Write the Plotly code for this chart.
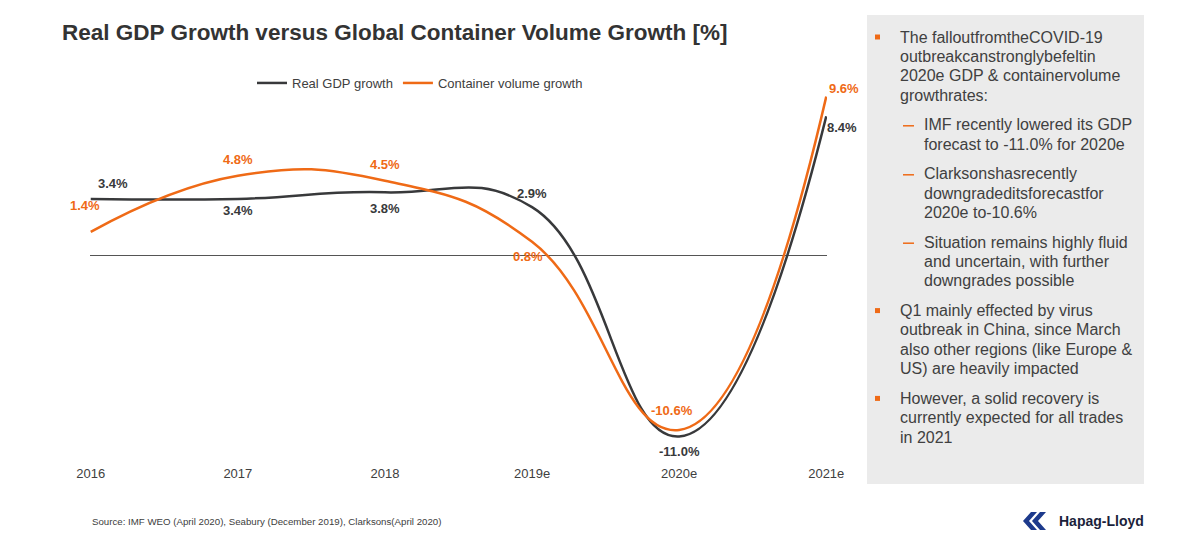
import plotly.graph_objects as go

W, H = 1200, 538

# ---------------- data ----------------
categories = ["2016", "2017", "2018", "2019e", "2020e", "2021e"]
gdp_growth = [3.4, 3.4, 3.8, 2.9, -11.0, 8.4]
container_growth = [1.4, 4.8, 4.5, 0.8, -10.6, 9.6]
gdp_labels = ["3.4%", "3.4%", "3.8%", "2.9%", "-11.0%", "8.4%"]
container_labels = ["1.4%", "4.8%", "4.5%", "0.8%", "-10.6%", "9.6%"]

title_text = "Real GDP Growth versus Global Container Volume Growth [%]"
source_text = "Source: IMF WEO (April 2020), Seabury (December 2019), Clarksons(April 2020)"

panel_lines = [
    # (text, level, starts_new_item)
    ("The falloutfromtheCOVID-19", 0, True),
    ("outbreakcanstronglybefeltin", 0, False),
    ("2020e GDP & containervolume", 0, False),
    ("growthrates:", 0, False),
    ("IMF recently lowered its GDP", 1, True),
    ("forecast to -11.0% for 2020e", 1, False),
    ("Clarksonshasrecently", 1, True),
    ("downgradeditsforecastfor", 1, False),
    ("2020e to-10.6%", 1, False),
    ("Situation remains highly fluid", 1, True),
    ("and uncertain, with further", 1, False),
    ("downgrades possible", 1, False),
    ("Q1 mainly effected by virus", 0, True),
    ("outbreak in China, since March", 0, False),
    ("also other regions (like Europe &", 0, False),
    ("US) are heavily impacted", 0, False),
    ("However, a solid recovery is", 0, True),
    ("currently expected for all trades", 0, False),
    ("in 2021", 0, False),
]

# ---------------- style ----------------
BLACK = "#38393b"
ORANGE = "#ef6a16"
TEXT = "#404040"
FONT = "Liberation Sans, Arial, sans-serif"
OFF = 8  # page body margin compensation

def px(x):
    return (x - OFF) / W

def py(y):
    return 1 - (y - OFF) / H

# plot area in (target) pixels
X0, X1 = 90, 827
Y_TOP, Y_BOT = 60, 461
ZERO_Y = 255
PX_PER_UNIT = 16.5
y_max = (ZERO_Y - Y_TOP) / PX_PER_UNIT
y_min = -(Y_BOT - ZERO_Y) / PX_PER_UNIT

fig = go.Figure()
fig.add_trace(go.Scatter(
    x=categories, y=gdp_growth, name="Real GDP growth", mode="lines",
    line=dict(color=BLACK, width=2.5, shape="spline", smoothing=1.3),
    hoverinfo="skip"))
fig.add_trace(go.Scatter(
    x=categories, y=container_growth, name="Container volume growth", mode="lines",
    line=dict(color=ORANGE, width=2.5, shape="spline", smoothing=1.3),
    hoverinfo="skip"))

annotations = []

# data labels (x given as category index)
gdp_shift = [(22, 15), (0, -12), (0, -16), (0, 14), (0, -15), (16, -11)]
cont_shift = [(-6, 26), (0, 16), (0, 16), (-4, -15), (-7, 19), (18, 8)]
for i, (v, lab, (dx, dy)) in enumerate(zip(gdp_growth, gdp_labels, gdp_shift)):
    annotations.append(dict(x=i, y=v, xref="x", yref="y", text=f"<b>{lab}</b>",
                            showarrow=False, xshift=dx, yshift=dy,
                            font=dict(family=FONT, size=13, color=BLACK)))
for i, (v, lab, (dx, dy)) in enumerate(zip(container_growth, container_labels, cont_shift)):
    annotations.append(dict(x=i, y=v, xref="x", yref="y", text=f"<b>{lab}</b>",
                            showarrow=False, xshift=dx, yshift=dy,
                            font=dict(family=FONT, size=13, color=ORANGE)))

# title
annotations.append(dict(x=px(60), y=py(33), xref="paper", yref="paper",
                        text=f"<b>{title_text}</b>", showarrow=False,
                        xanchor="left", yanchor="middle",
                        font=dict(family=FONT, size=22.5, color="#333333")))
# source
annotations.append(dict(x=px(90), y=py(521), xref="paper", yref="paper",
                        text=source_text, showarrow=False,
                        xanchor="left", yanchor="middle",
                        font=dict(family=FONT, size=9.7, color=TEXT)))
# logo text
annotations.append(dict(x=px(1057), y=py(521), xref="paper", yref="paper",
                        text="<b>Hapag-Lloyd</b>", showarrow=False,
                        xanchor="left", yanchor="middle",
                        font=dict(family=FONT, size=14, color="#1b1f3a")))

shapes = []
# grey side panel
shapes.append(dict(type="rect", xref="paper", yref="paper",
                   x0=px(867), x1=px(1144), y0=py(484), y1=py(15),
                   fillcolor="#ebebeb", line=dict(width=0), layer="below"))

# panel text
line_h = 19.4
gap = 10.2
y = 37
for i, (txt, level, new_item) in enumerate(panel_lines):
    if new_item and i > 0:
        y += gap
    tx = 898 if level == 0 else 922
    annotations.append(dict(x=px(tx), y=py(y), xref="paper", yref="paper",
                            text=txt, showarrow=False, xanchor="left", yanchor="middle",
                            font=dict(family=FONT, size=16, color=TEXT)))
    if new_item:
        if level == 0:
            shapes.append(dict(type="rect", xref="paper", yref="paper",
                               x0=px(875), x1=px(880), y0=py(y + 2.5), y1=py(y - 2.5),
                               fillcolor=ORANGE, line=dict(width=0)))
        else:
            shapes.append(dict(type="line", xref="paper", yref="paper",
                               x0=px(903), x1=px(914), y0=py(y + 1), y1=py(y + 1),
                               line=dict(color=ORANGE, width=1.5)))
    y += line_h

# logo icon (two chevrons)
def chev(x):
    pts = [(x + 9, 512), (x + 15, 512), (x + 7, 521), (x + 15, 530), (x + 9, 530), (x + 1, 521)]
    return "M " + " L ".join(f"{px(a):.5f},{py(b):.5f}" for a, b in pts) + " Z"

for xo in (1022, 1031):
    shapes.append(dict(type="path", xref="paper", yref="paper", path=chev(xo),
                       fillcolor="#1d3a8c", line=dict(width=0)))

fig.update_layout(
    width=W, height=H,
    margin=dict(l=0, r=0, t=0, b=0, pad=0, autoexpand=False),
    paper_bgcolor="white", plot_bgcolor="white",
    font=dict(family=FONT, color=TEXT),
    showlegend=True,
    legend=dict(orientation="h", x=px(252), y=py(83), xanchor="left", yanchor="middle",
                font=dict(family=FONT, size=13, color=TEXT), itemwidth=30,
                bgcolor="rgba(0,0,0,0)"),
    xaxis=dict(domain=[px(X0), px(X1)], range=[-0.005, 5.005], type="category",
               showgrid=False, zeroline=False, showline=False, ticks="",
               tickfont=dict(family=FONT, size=13, color=TEXT), fixedrange=True,
               automargin=False, ticklabelstandoff=3),
    yaxis=dict(domain=[py(Y_BOT), py(Y_TOP)], range=[y_min, y_max],
               showgrid=False, showticklabels=False, ticks="", showline=False,
               zeroline=True, zerolinecolor="#555555", zerolinewidth=1, fixedrange=True,
               automargin=False),
    annotations=annotations,
    shapes=shapes,
)

fig.write_html("out.html")
